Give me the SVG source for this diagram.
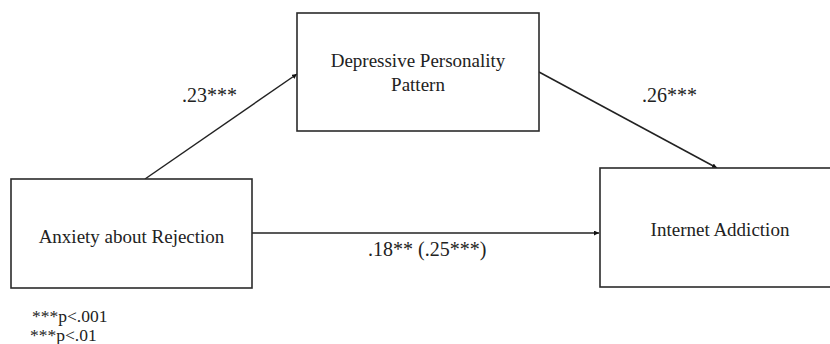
<svg xmlns="http://www.w3.org/2000/svg" width="830" height="344" viewBox="0 0 830 344">
<style>
.box{fill:#fff;stroke:#2b2b2b;stroke-width:1.6}
text{font-family:'Liberation Serif',serif;fill:#222}
.t{font-size:19px;text-anchor:middle}
.lab{font-size:20px}
.note{font-size:17.5px}
.c{stroke:#222;stroke-width:1.5;fill:none;marker-end:url(#ah)}
</style>
<defs>
<marker id="ah" viewBox="0 0 10 10" refX="10" refY="5" markerWidth="5" markerHeight="5" orient="auto" markerUnits="userSpaceOnUse">
<path d="M0,0 L10,5 L0,10 z" fill="#111"/>
</marker>
</defs>
<rect width="830" height="344" fill="#fff"/>
<g id="connectors">
<line class="c" x1="145" y1="179" x2="297" y2="74"/>
<line class="c" x1="539" y1="72" x2="717" y2="168"/>
<line class="c" x1="252" y1="233" x2="599" y2="233"/>
</g>
<g id="node-anxiety">
<rect class="box" x="11" y="179" width="241" height="109"/>
<text class="t" x="131.5" y="243">Anxiety about Rejection</text>
</g>
<g id="node-depressive">
<rect class="box" x="297" y="13" width="242" height="118"/>
<text class="t" x="418" y="67">Depressive Personality</text>
<text class="t" x="418" y="91">Pattern</text>
</g>
<g id="node-internet">
<rect class="box" x="600" y="168" width="240" height="119"/>
<text class="t" x="720" y="236">Internet Addiction</text>
</g>
<g id="labels">
<text class="lab" x="182" y="102">.23***</text>
<text class="lab" x="642" y="102">.26***</text>
<text class="lab" x="368" y="256">.18** (.25***)</text>
</g>
<g id="notes">
<text class="note" x="32" y="322">***p&lt;.001</text>
<text class="note" x="30" y="341">***p&lt;.01</text>
</g>
</svg>
